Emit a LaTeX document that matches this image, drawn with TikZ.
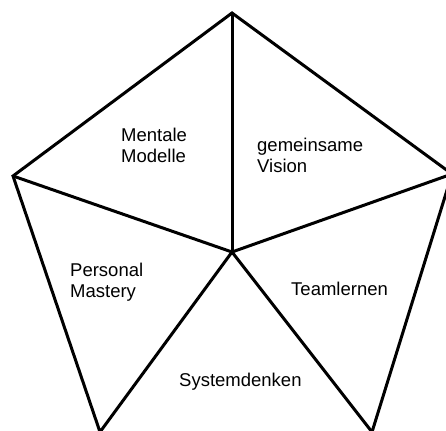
\documentclass[tikz,border=0pt]{standalone}
\usepackage{fontspec}
\setmainfont{Liberation Sans}
\begin{document}
\begin{tikzpicture}[x=1pt,y=-1pt,
  edge/.style={line width=3pt,line join=miter,line cap=butt},
  lbl/.style={font=\fontsize{18.5}{21}\selectfont,inner sep=0pt,align=left,anchor=base west}]
\useasboundingbox (0,0) rectangle (446,430);
\clip (0,0) rectangle (446,430);
\coordinate (T) at (232,13);
\coordinate (L) at (13,176);
\coordinate (R) at (452,174);
\coordinate (BL) at (100,432);
\coordinate (BR) at (372,432);
\coordinate (C) at (232,252);
\draw[edge] (T) -- (R) -- (BR) -- (C) -- (BL) -- (L) -- cycle;
\draw[edge] (T) -- (C);
\draw[edge] (L) -- (C) -- (R);
\node[lbl] (mm) at (121,163) {Mentale\\Modelle};
\node[lbl] (gv) at (257,173) {gemeinsame\\Vision};
\node[lbl] (pm) at (70,297) {Personal\\Mastery};
\node[lbl] (tl) at (291,295) {Teamlernen};
\node[lbl] (sd) at (179,386) {Systemdenken};
\end{tikzpicture}
\end{document}
